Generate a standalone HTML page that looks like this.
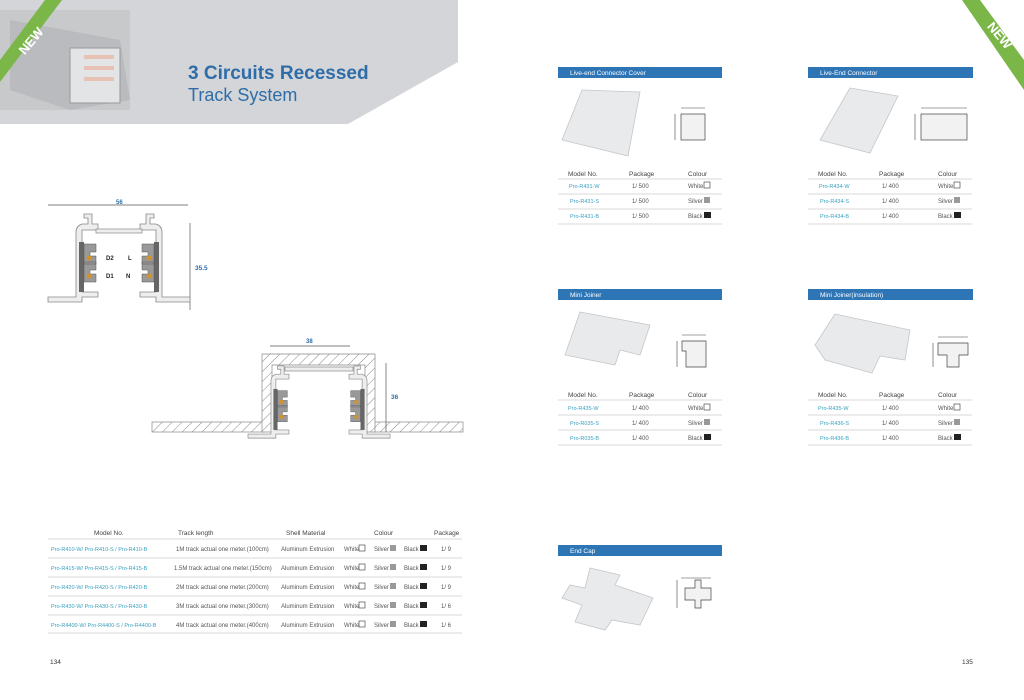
<!DOCTYPE html>
<html><head><meta charset="utf-8"><style>
body{margin:0;background:#fff;}
svg{display:block;font-family:"Liberation Sans",sans-serif;}
.t{font-size:6px;fill:#555;}
.m{font-size:5.5px;fill:#3aa0c0;}
.h{font-size:6.5px;fill:#444;}
.bar{font-size:6.5px;fill:#fff;}
</style></head><body>
<svg width="1024" height="700" viewBox="0 0 1024 700" xmlns="http://www.w3.org/2000/svg">
<defs>
<pattern id="hat" width="7" height="7" patternUnits="userSpaceOnUse" patternTransform="rotate(45)">
<rect width="7" height="7" fill="#fff"/><line x1="0" y1="0" x2="0" y2="7" stroke="#888" stroke-width="1"/></pattern>
<g id="half">
<path d="M0 297 H28 V232 Q28 226 34 224 H40 V218 H36 V214 H44 V224 H50 V230 H34 V292 H50 V297 H34 V302 H0 Z" fill="#eee" stroke="#888" stroke-width="0.8"/>
<rect x="31" y="242" width="5" height="50" fill="#666"/>
<path d="M36 244 h12 v8 h-6 v4 h6 v8 h-12 z M36 262 h12 v8 h-6 v4 h6 v8 h-12 z" fill="#999" stroke="#555" stroke-width="0.5"/>
<circle cx="41" cy="258" r="2.5" fill="#d4922e"/><circle cx="41" cy="276" r="2.5" fill="#d4922e"/>
</g>
<g id="sw"><rect width="6" height="6" fill="#fff" stroke="#333" stroke-width="0.6"/></g>
<g id="cols">
<use href="#sw" x="0" y="0"/><rect x="0" y="15" width="6" height="6" fill="#999"/><rect x="0" y="30" width="7" height="6" fill="#222"/>
</g>
<g id="grid" stroke="#ccc" stroke-width="0.8"><line x1="0" y1="0" x2="164" y2="0"/><line x1="0" y1="15" x2="164" y2="15"/><line x1="0" y1="30" x2="164" y2="30"/><line x1="0" y1="45" x2="164" y2="45"/></g>
</defs>
<!-- header -->
<polygon points="0,0 458,0 458,62 348,124 0,124" fill="#d3d5d8"/>
<rect x="0" y="10" width="130" height="100" fill="#c8c9cb"/>
<polygon points="10,20 120,40 130,100 70,110 10,90" fill="#b9bbbe"/>
<rect x="70" y="48" width="50" height="55" fill="#e3e4e6" stroke="#999"/>
<rect x="84" y="55" width="30" height="4" fill="#e7c1b3"/><rect x="84" y="66" width="30" height="4" fill="#e7c1b3"/><rect x="84" y="77" width="30" height="4" fill="#e7c1b3"/>
<polygon points="0,60 45,0 62,0 0,82" fill="#7ab648"/>
<text x="12" y="52" transform="rotate(-50 22 40)" font-size="13" font-weight="bold" fill="#fff">NEW</text>
<text x="188" y="79" font-size="19" font-weight="bold" fill="#2e6da8">3 Circuits Recessed</text>
<text x="188" y="101" font-size="18" fill="#2e6da8">Track System</text>
<polygon points="1024,60 980,0 962,0 1024,90" fill="#7ab648"/>
<text x="985" y="40" transform="rotate(50 1000 35)" font-size="13" font-weight="bold" fill="#fff">NEW</text>
<!-- profile drawing -->
<line x1="48" y1="205" x2="188" y2="205" stroke="#555" stroke-width="0.7"/>
<text x="116" y="204" font-size="6" font-weight="bold" fill="#2e6da8">56</text>
<line x1="190" y1="223" x2="190" y2="310" stroke="#555" stroke-width="0.7"/>
<text x="195" y="270" font-size="6.5" font-weight="bold" fill="#2e6da8">35.5</text>
<use href="#half" x="48" y="0"/>
<use href="#half" transform="translate(238 0) scale(-1 1)" x="48"/>
<rect x="96" y="229" width="46" height="4" fill="#eee" stroke="#888" stroke-width="0.7"/>
<text x="106" y="260" font-size="6" font-weight="bold" fill="#222">D2</text><text x="106" y="278" font-size="6" font-weight="bold" fill="#222">D1</text>
<text x="128" y="260" font-size="6" font-weight="bold" fill="#222">L</text><text x="126" y="278" font-size="6" font-weight="bold" fill="#222">N</text>
<!-- recessed -->
<rect x="152" y="422" width="112" height="10" fill="url(#hat)" stroke="#888" stroke-width="0.7"/>
<rect x="373" y="422" width="90" height="10" fill="url(#hat)" stroke="#888" stroke-width="0.7"/>
<path d="M262 432 V354 H375 V432 H365 V365 H272 V432 Z" fill="url(#hat)" stroke="#888" stroke-width="0.7"/>
<use href="#half" transform="translate(248 190.5) scale(0.82)"/>
<use href="#half" transform="translate(390 190.5) scale(-0.82 0.82)"/>
<rect x="285" y="367" width="68" height="4" fill="#eee" stroke="#888" stroke-width="0.7"/>
<line x1="270" y1="346" x2="350" y2="346" stroke="#555" stroke-width="0.7"/>
<text x="306" y="343" font-size="6" font-weight="bold" fill="#2e6da8">38</text>
<line x1="386" y1="363" x2="386" y2="432" stroke="#555" stroke-width="0.7"/>
<text x="391" y="399" font-size="6.5" font-weight="bold" fill="#2e6da8">36</text>
<!-- bottom left table -->
<g class="h"><text x="94" y="535">Model No.</text><text x="178" y="535">Track length</text><text x="286" y="535">Shell Material</text><text x="374" y="535">Colour</text><text x="434" y="535">Package</text></g>
<g stroke="#ccc" stroke-width="0.8"><line x1="48" y1="539" x2="462" y2="539"/><line x1="48" y1="558" x2="462" y2="558"/><line x1="48" y1="577" x2="462" y2="577"/><line x1="48" y1="596" x2="462" y2="596"/><line x1="48" y1="615" x2="462" y2="615"/><line x1="48" y1="633" x2="462" y2="633"/></g>
<g class="m">
<text x="51" y="551">Pro-R410-W/ Pro-R410-S / Pro-R410-B</text>
<text x="51" y="570">Pro-R415-W/ Pro-R415-S / Pro-R415-B</text>
<text x="51" y="589">Pro-R420-W/ Pro-R420-S / Pro-R420-B</text>
<text x="51" y="608">Pro-R430-W/ Pro-R430-S / Pro-R430-B</text>
<text x="51" y="627">Pro-R4400-W/ Pro-R4400-S / Pro-R4400-B</text></g>
<g class="t" font-size="5.5">
<text x="176" y="551">1M track actual one meter.(100cm)</text>
<text x="174" y="570">1.5M track actual one meter.(150cm)</text>
<text x="176" y="589">2M track actual one meter.(200cm)</text>
<text x="176" y="608">3M track actual one meter.(300cm)</text>
<text x="176" y="627">4M track actual one meter.(400cm)</text></g>
<g id="crow">
<text x="281" y="551" class="t" font-size="5.5">Aluminum Extrusion</text>
<text x="344" y="551" class="t" font-size="5.5">White</text><use href="#sw" x="359" y="545"/>
<text x="374" y="551" class="t" font-size="5.5">Silver</text><rect x="390" y="545" width="6" height="6" fill="#999"/>
<text x="404" y="551" class="t" font-size="5.5">Black</text><rect x="420" y="545" width="7" height="6" fill="#222"/>
</g>
<use href="#crow" y="19"/><use href="#crow" y="38"/><use href="#crow" y="57"/><use href="#crow" y="76"/>
<g class="t"><text x="441" y="551">1/ 9</text><text x="441" y="570">1/ 9</text><text x="441" y="589">1/ 9</text><text x="441" y="608">1/ 6</text><text x="441" y="627">1/ 6</text></g>
<text x="50" y="664" font-size="6.5" fill="#333">134</text>
<text x="962" y="664" font-size="6.5" fill="#333">135</text>
<!-- bars -->
<rect x="558" y="67" width="164" height="11" fill="#2e75b6"/><text x="570" y="75" class="bar">Live-end Connector Cover</text>
<rect x="808" y="67" width="165" height="11" fill="#2e75b6"/><text x="820" y="75" class="bar">Live-End Connector</text>
<rect x="558" y="289" width="164" height="11" fill="#2e75b6"/><text x="570" y="297" class="bar">Mini Joiner</text>
<rect x="808" y="289" width="165" height="11" fill="#2e75b6"/><text x="820" y="297" class="bar">Mini Joiner(insulation)</text>
<rect x="558" y="545" width="164" height="11" fill="#2e75b6"/><text x="570" y="553" class="bar">End Cap</text>
<!-- table 1 -->
<g class="h"><text x="568" y="176">Model No.</text><text x="629" y="176">Package</text><text x="688" y="176">Colour</text></g>
<use href="#grid" x="558" y="179"/>
<g class="m"><text x="569" y="188">Pro-R431-W</text><text x="570" y="203">Pro-R431-S</text><text x="570" y="218">Pro-R431-B</text></g>
<g class="t"><text x="632" y="188">1/ 500</text><text x="632" y="203">1/ 500</text><text x="632" y="218">1/ 500</text>
<text x="688" y="188">White</text><text x="688" y="203">Silver</text><text x="688" y="218">Black</text></g>
<use href="#cols" x="704" y="182"/>
<!-- table 2 -->
<g class="h"><text x="818" y="176">Model No.</text><text x="879" y="176">Package</text><text x="938" y="176">Colour</text></g>
<use href="#grid" x="808" y="179"/>
<g class="m"><text x="819" y="188">Pro-R434-W</text><text x="820" y="203">Pro-R434-S</text><text x="820" y="218">Pro-R434-B</text></g>
<g class="t"><text x="882" y="188">1/ 400</text><text x="882" y="203">1/ 400</text><text x="882" y="218">1/ 400</text>
<text x="938" y="188">White</text><text x="938" y="203">Silver</text><text x="938" y="218">Black</text></g>
<use href="#cols" x="954" y="182"/>
<!-- table 3 -->
<g class="h"><text x="568" y="397">Model No.</text><text x="629" y="397">Package</text><text x="688" y="397">Colour</text></g>
<use href="#grid" x="558" y="400"/>
<g class="m"><text x="568" y="410">Pro-R435-W</text><text x="570" y="425">Pro-R035-S</text><text x="570" y="440">Pro-R035-B</text></g>
<g class="t"><text x="632" y="410">1/ 400</text><text x="632" y="425">1/ 400</text><text x="632" y="440">1/ 400</text>
<text x="688" y="410">White</text><text x="688" y="425">Silver</text><text x="688" y="440">Black</text></g>
<use href="#cols" x="704" y="404"/>
<!-- table 4 -->
<g class="h"><text x="818" y="397">Model No.</text><text x="879" y="397">Package</text><text x="938" y="397">Colour</text></g>
<use href="#grid" x="808" y="400"/>
<g class="m"><text x="818" y="410">Pro-R435-W</text><text x="820" y="425">Pro-R436-S</text><text x="820" y="440">Pro-R436-B</text></g>
<g class="t"><text x="882" y="410">1/ 400</text><text x="882" y="425">1/ 400</text><text x="882" y="440">1/ 400</text>
<text x="938" y="410">White</text><text x="938" y="425">Silver</text><text x="938" y="440">Black</text></g>
<use href="#cols" x="954" y="404"/>
<!-- product images -->
<g fill="#e9eaec" stroke="#c5c6c9" stroke-width="0.8">
<polygon points="582,90 640,92 628,156 562,140"/>
<polygon points="850,88 898,96 870,153 820,140"/>
<polygon points="580,312 650,325 640,355 620,350 615,365 565,355"/>
<polygon points="835,314 910,330 905,360 880,356 872,373 825,360 815,345"/>
<polygon points="590,568 620,575 615,585 653,598 640,625 612,620 605,630 575,622 582,605 562,598 570,585 585,588"/>
</g>
<g fill="#f2f2f2" stroke="#444" stroke-width="0.7">
<rect x="681" y="114" width="24" height="26"/>
<rect x="921" y="114" width="46" height="26"/>
<path d="M682 341 h24 v26 h-20 v-16 h-4z"/>
<path d="M938 343 h30 v12 h-9 v12 h-12 v-12 h-9z"/>
<path d="M685 588 h10 v-8 h6 v8 h10 v12 h-10 v8 h-6 v-8 h-10z"/>
</g>
<g stroke="#444" stroke-width="0.6">
<line x1="681" y1="108" x2="705" y2="108"/><line x1="675" y1="114" x2="675" y2="140"/>
<line x1="921" y1="108" x2="967" y2="108"/><line x1="915" y1="114" x2="915" y2="140"/>
<line x1="682" y1="335" x2="706" y2="335"/><line x1="677" y1="341" x2="677" y2="367"/>
<line x1="938" y1="337" x2="968" y2="337"/><line x1="933" y1="343" x2="933" y2="367"/>
<line x1="681" y1="586" x2="711" y2="586" transform="translate(0,-8)"/><line x1="677" y1="580" x2="677" y2="608"/>
</g>
</svg>
</body></html>
